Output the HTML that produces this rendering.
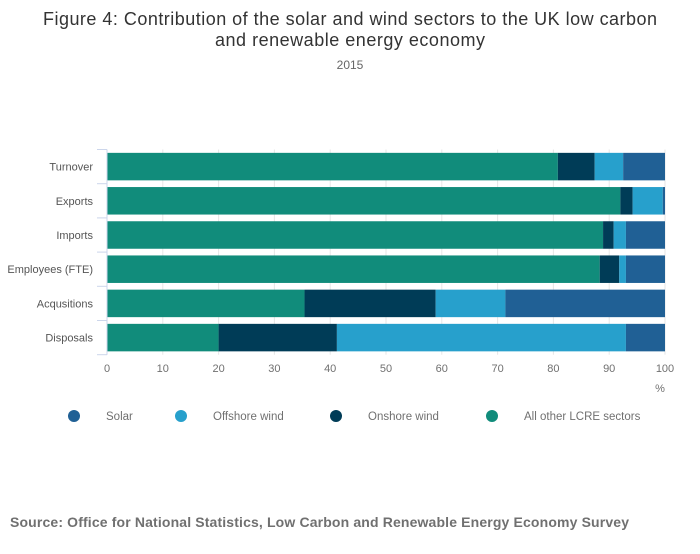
<!DOCTYPE html>
<html><head><meta charset="utf-8"><style>
body{margin:0;background:#fff;font-family:"Liberation Sans",sans-serif;}
svg text{font-family:"Liberation Sans",sans-serif;}
</style></head><body>
<svg id="c" width="700" height="549" xmlns="http://www.w3.org/2000/svg">
<text x="350" y="25" text-anchor="middle" font-size="18" textLength="614" fill="#333">Figure 4: Contribution of the solar and wind sectors to the UK low carbon</text>
<text x="350" y="46" text-anchor="middle" font-size="18" textLength="270" fill="#333">and renewable energy economy</text>
<text x="350" y="69" text-anchor="middle" font-size="12" fill="#666">2015</text>
<g id="grid"></g><g id="bars"></g><g id="axes"></g><g id="legend"></g>
<text x="10" y="527" font-size="14" font-weight="bold" textLength="619" fill="#707070">Source: Office for National Statistics, Low Carbon and Renewable Energy Economy Survey</text>
</svg>
<script>
const categories=["Turnover","Exports","Imports","Employees (FTE)","Acqusitions","Disposals"];
const otherVals=[80.8,92.0,88.9,88.3,35.4,20.0];
const onshoreVals=[6.6,2.2,1.9,3.5,23.5,21.2];
const offshoreVals=[5.1,5.4,2.2,1.2,12.5,51.8];
const solarVals=[7.5,0.4,7.0,7.0,28.6,7.0];
const ticks=[0,10,20,30,40,50,60,70,80,90,100];
const seriesNames=["Solar","Offshore wind","Onshore wind","All other LCRE sectors"];
const NS="http://www.w3.org/2000/svg";
const x0=107,x1=665,yTop=149.5,band=34.2,barH=27.5;
const xs=v=>x0+(x1-x0)*v/100;
const ys=i=>yTop+band*i;
function mk(tag,attrs,parent,txt){const e=document.createElementNS(NS,tag);for(const k in attrs)e.setAttribute(k,attrs[k]);if(txt!==undefined)e.textContent=txt;parent.appendChild(e);return e;}
const grid=document.getElementById('grid'),bars=document.getElementById('bars'),axes=document.getElementById('axes'),leg=document.getElementById('legend');
ticks.forEach(t=>{
 const l=mk('line',{x1:xs(t),x2:xs(t),y1:yTop,y2:yTop+band*categories.length,stroke:'#e6e6e6','stroke-width':1},grid);
 
 
 const tx=mk('text',{x:xs(t),y:372,'text-anchor':'middle','font-size':11,fill:'#707070'},axes,String(t));
 
 
});
const pu=mk('text',{x:660,y:392,'text-anchor':'middle','font-size':11,fill:'#707070'},axes,'%');


const colors=['#118c7b','#003c57','#27a0cc','#206095'];
const series=[otherVals,onshoreVals,offshoreVals,solarVals];
const sn=['other','onshore','offshore','solar'];
categories.forEach((c,i)=>{
 let acc=0;
 series.forEach((s,j)=>{
  const r=mk('rect',{x:xs(acc),y:ys(i)+(band-barH)/2,width:xs(acc+s[i])-xs(acc),height:barH,fill:colors[j]},bars);
  
  
  acc+=s[i];
 });
 const t=mk('text',{x:93,y:ys(i)+band/2+4,'text-anchor':'end','font-size':11,fill:'#555'},axes,c);
 
 
});
for(let i=0;i<=categories.length;i++){
 const tk=mk('line',{x1:97,x2:x0,y1:ys(i),y2:ys(i),stroke:'#ccd6eb'},axes);
 
 
}
const ax=mk('line',{x1:x0,x2:x0,y1:yTop,y2:ys(categories.length),stroke:'#ccd6eb'},axes);


const legX=[74,181,336,492],legC=['#206095','#27a0cc','#003c57','#118c7b'];
seriesNames.forEach((n,i)=>{
 const g=mk('g',{},leg);
 
 
 mk('circle',{cx:legX[i],cy:416,r:6,fill:legC[i]},g);
 mk('text',{x:legX[i]+32,y:420,'font-size':11.5,fill:'#707070'},g,n);
});
</script>
</body></html>
